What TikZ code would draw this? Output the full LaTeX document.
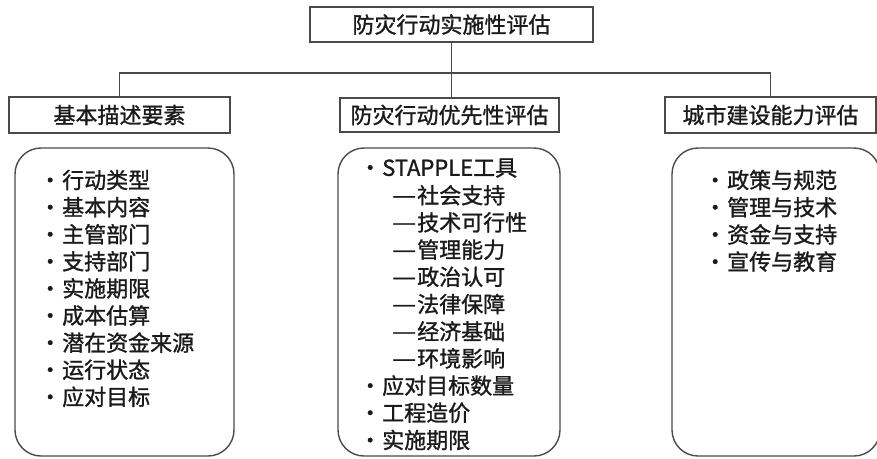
\documentclass[tikz,border=0pt]{standalone}
\usepackage{fontspec}
\usepackage{graphicx}
\setmainfont{Noto Sans CJK SC}[FakeBold=1.2]
\definecolor{linegray}{HTML}{4A4A4A}
\definecolor{textblack}{HTML}{1A1A1A}
\newcommand\fsz{\fontsize{22}{26}\selectfont}
\newcommand\bul{\makebox[24pt][c]{·}}
\newcommand\dsh{\makebox[24pt][l]{\hspace*{-1pt}\raisebox{0.5pt}{\resizebox{24pt}{\height}{—}}}}
\begin{document}
\begin{tikzpicture}[x=1pt,y=-1pt,
  line/.style={draw=linegray, line width=1.4pt},
  head/.style={line, fill=white, inner sep=0pt, font=\fsz, text=textblack},
  panel/.style={line, rounded corners=26pt, inner sep=0pt},
  item/.style={anchor=west, inner sep=0pt, font=\fsz, text=textblack}]
\useasboundingbox (0,0) rectangle (877,458);
% headers
\node[head, minimum width=283pt, minimum height=35pt] (top) at (451.5,24.5) {防灾行动实施性评估};
\node[head, minimum width=221pt, minimum height=36pt] (left) at (119.5,115) {基本描述要素};
\node[head, minimum width=219pt, minimum height=34pt] (mid) at (449.5,115) {防灾行动优先性评估};
\node[head, minimum width=211pt, minimum height=36pt] (right) at (770.5,115) {城市建设能力评估};
% connectors
\coordinate (bus) at (450,73);
\draw[line] (top.south) -- (top.south |- mid.north);
\draw[line] (left.north) -- (left.north |- bus) -- (right.north |- bus) -- (right.north);
% panels
\node[panel, minimum width=219pt, minimum height=308pt] (lp) at (124.5,302) {};
\node[panel, minimum width=222pt, minimum height=308pt] (mp) at (449,302) {};
\node[panel, minimum width=208pt, minimum height=308pt] (rp) at (776,302) {};
% left items
\foreach \t [count=\i from 0] in {行动类型,基本内容,主管部门,支持部门,实施期限,成本估算,潜在资金来源,运行状态,应对目标}
  \node[item] (L\i) at (38,180+27.1*\i) {\bul\t};
% middle items
\node[item] (M0) at (358,168) {\bul STAPPLE工具};
\foreach \t [count=\i from 1] in {社会支持,技术可行性,管理能力,政治认可,法律保障,经济基础,环境影响}
  \node[item] (M\i) at (393,168+27.2*\i) {\dsh\t};
\foreach \t [count=\i from 8] in {应对目标数量,工程造价,实施期限}
  \node[item] (M\i) at (358,168+27.2*\i) {\bul\t};
% right items
\foreach \t [count=\i from 0] in {政策与规范,管理与技术,资金与支持,宣传与教育}
  \node[item] (R\i) at (703,180+27.2*\i) {\bul\t};
\end{tikzpicture}
\end{document}
